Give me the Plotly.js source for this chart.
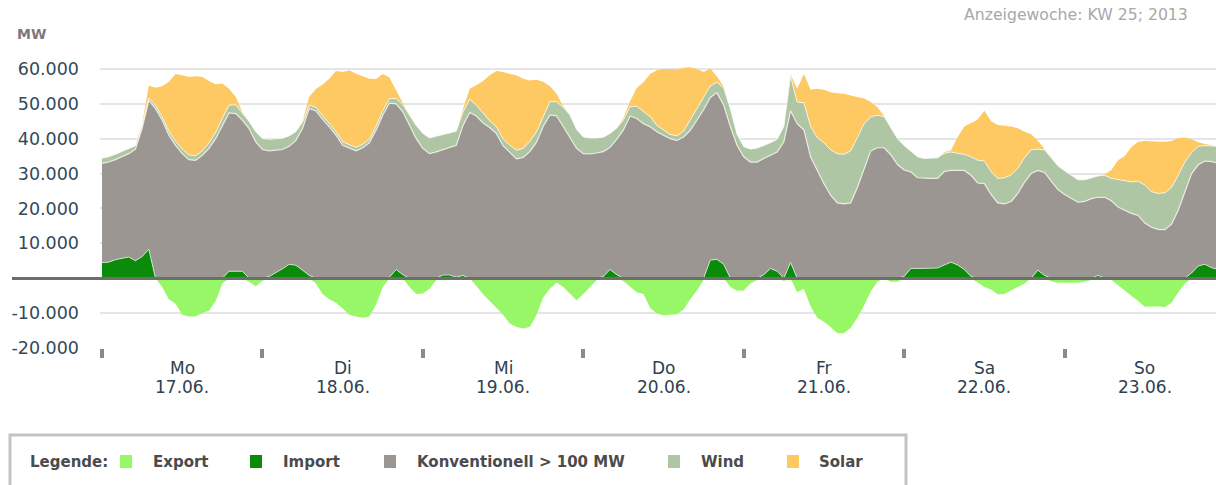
<!DOCTYPE html>
<html>
<head>
<meta charset="utf-8">
<script src="https://cdn.plot.ly/plotly-3.0.1.min.js"></script>
<style>
html,body{margin:0;padding:0;background:#fff;overflow:hidden;}
#chart{width:1216px;height:485px;}
</style>
</head>
<body>
<div id="chart"></div>
<script>
// Hourly values in MW, KW 25 / 2013 (Mo 17.06. 00:00 ... So 23.06. 23:00), one row per day
const importMW = [
  4500,4600,5300,5800,6100,5000,6200,8300,0,0,0,0,0,0,0,0,0,0,0,2000,2000,2000,0,0,
  0,500,1500,2700,4000,3700,2300,800,0,0,0,0,0,0,0,0,0,0,0,300,2500,1000,0,0,
  0,0,0,900,900,300,800,0,0,0,0,0,0,0,0,0,0,0,0,0,0,0,0,0,
  0,0,0,500,2500,1000,0,0,0,0,0,0,0,0,0,0,0,0,0,5200,5400,4000,0,0,
  0,0,0,1000,2800,2000,0,4500,0,0,0,0,0,0,0,0,0,0,0,0,0,0,0,0,
  500,2800,2800,2800,2800,2900,3800,4600,3800,2500,500,0,0,0,0,0,0,0,0,0,2300,800,0,0,
  0,0,0,0,0,800,0,0,0,0,0,0,0,0,0,0,0,0,0,1500,3500,4000,3000,2500
];
const konventionellMW = [
  28400,28700,28700,29000,29600,32000,36700,42700,48600,45300,41000,38100,35700,34000,33800,35200,37200,40000,43800,45400,45200,43300,42900,39100,
  36900,36000,35200,34200,33800,35800,40600,47800,48000,45500,43400,41000,38100,37200,36500,37400,38800,42400,46700,49900,47500,46700,43800,40000,
  37200,35700,36200,36000,36500,37800,43000,47500,46500,44500,43200,41500,38000,36000,34200,34600,36300,39000,43500,46800,46500,43500,40300,37200,
  35700,35600,35900,35800,35000,38800,42500,46500,45800,44300,43400,42000,41000,40000,39500,40500,42400,45300,48300,46600,47800,45600,43400,38100,
  34800,33300,33300,33300,32400,34200,39100,43500,44300,42500,34800,30900,27100,23800,21600,21300,21600,26000,31500,36500,37400,37400,35400,32600,
  30500,27700,26000,25800,25800,25700,26800,26300,27100,28400,29000,27300,27100,24000,21600,21300,22000,24300,27500,30000,28600,29500,27800,25400,
  24000,22800,21800,22000,22800,22400,23200,22200,20400,19500,18600,18000,15800,14600,14000,13900,15500,19500,25000,28500,29000,29600,30400,30500
];
const windMW = [
  1500,1500,1500,1500,1500,1000,900,700,1000,1000,1200,1200,1300,1300,1300,1300,1500,1800,2000,2200,2500,2000,2000,2900,
  3100,3300,3200,3200,3000,2500,1800,1000,1000,1000,1000,1000,1000,1000,1000,1000,1000,1200,1300,1300,1500,2000,2800,3800,
  4300,4500,4500,4300,4200,4000,3800,3800,3100,2900,1900,1900,1900,2100,2500,2600,2900,2900,3000,3800,4100,5500,6500,5400,
  4800,4600,4300,4100,4000,3200,2900,2700,3500,3400,2900,1800,1500,1200,1300,1600,3000,3200,3500,3300,3000,4900,5100,3100,
  2900,3700,4000,3700,3600,3600,4400,10000,6200,7800,8700,9400,11700,13000,14100,14200,14900,14300,12800,9800,9300,8900,7900,7400,
  7000,6000,6000,5700,5800,5900,5200,5300,4900,4600,5300,6500,6500,6500,7000,7500,7600,7200,7000,6800,6100,6500,6700,6800,
  6800,6700,6400,6200,6000,6100,6300,6400,7900,8500,9000,9800,10900,10200,10300,10600,10500,10000,8300,6000,5300,4400,4600,4800
];
const solarMW = [
  0,0,0,0,0,0,300,3500,5000,8700,14100,19200,21200,22400,22800,21200,17800,13800,10000,4700,2300,300,0,0,
  0,0,0,0,0,0,300,2400,5200,9000,12800,17400,20000,21400,21100,19500,17400,13500,10500,6000,2400,300,0,0,
  0,0,0,0,0,0,800,3000,5700,9100,13100,16000,19200,20400,21500,20000,17500,15000,9800,4400,2300,300,0,0,
  0,0,0,0,0,0,500,1500,5200,8500,12200,15800,17500,18600,19000,18200,15100,11500,7300,5000,1600,400,0,0,
  0,0,0,0,0,0,0,400,3800,8200,10500,14000,15200,16500,17300,17400,15900,11700,7200,4200,2300,200,0,0,
  0,0,0,0,0,0,300,500,4700,8000,9700,11700,14400,14500,15300,15000,13900,11500,7500,4500,2400,200,0,0,
  0,0,0,0,0,0,200,2400,5500,7000,10000,11300,12600,14300,14800,14600,13300,10700,7000,3800,1200,500,200,0
];
const exportMW = [
  0,0,0,0,0,0,0,0,0,-2500,-6000,-7300,-10500,-11000,-11000,-10000,-9300,-6500,-1500,0,0,0,-1000,-2300,
  -700,0,0,0,0,0,0,0,-1500,-4500,-6000,-7000,-8700,-10500,-11000,-11300,-11000,-7500,-2500,0,0,0,-2500,-4500,
  -4400,-3000,-500,0,0,0,0,0,-2200,-4600,-6500,-8500,-10500,-13000,-14000,-14400,-14000,-10500,-5500,-3000,-1200,-2500,-4500,-6300,
  -4500,-2500,-500,0,0,0,-800,-2300,-4000,-4500,-8500,-10100,-10600,-10500,-10300,-9000,-6000,-3500,-500,0,0,0,-2500,-3600,
  -3500,-1500,-500,0,0,0,-800,0,-4000,-3000,-8000,-11300,-12500,-14000,-15800,-15800,-14200,-11300,-7800,-3800,-1000,0,-1000,-1000,
  0,0,0,0,0,0,0,0,0,0,0,-1200,-2500,-3200,-4600,-4500,-3500,-2500,-1500,0,0,0,-900,-1300,
  -1300,-1300,-1300,-1000,-500,0,-300,-500,-2000,-3500,-4800,-6500,-8200,-8100,-8000,-8300,-7000,-4000,-1500,0,0,0,0,0
];
const dayNames = ["Mo","Di","Mi","Do","Fr","Sa","So"];
const dayDates = ["17.06.","18.06.","19.06.","20.06.","21.06.","22.06.","23.06."];
const yTickVals = [-20000,-10000,0,10000,20000,30000,40000,50000,60000,70000];
const yTickText = ["-20.000","-10.000","","10.000","20.000","30.000","40.000","50.000","60.000",""];
const legendNames = ["Export","Import","Konventionell > 100 MW","Wind","Solar"];
const seriesColors = {Export:"#97f766", Import:"#0a8c0a", Konv:"#9c9692", Wind:"#afc6a5", Solar:"#fec863"};

const hours = importMW.map((_, i) => i);

const traces = [
  {x:hours, y:exportMW, type:"scatter", mode:"lines", fill:"tozeroy", fillcolor:seriesColors.Export,
   line:{width:0, color:seriesColors.Export}, hoverinfo:"skip", showlegend:false},
  {x:hours, y:importMW, type:"scatter", mode:"lines", stackgroup:"pos", fillcolor:seriesColors.Import,
   line:{color:"rgba(255,255,255,0.6)", width:1}, hoverinfo:"skip", showlegend:false},
  {x:hours, y:konventionellMW, type:"scatter", mode:"lines", stackgroup:"pos", fillcolor:seriesColors.Konv,
   line:{color:"rgba(240,240,232,0.9)", width:1.2}, hoverinfo:"skip", showlegend:false},
  {x:hours, y:windMW, type:"scatter", mode:"lines", stackgroup:"pos", fillcolor:seriesColors.Wind,
   line:{color:"rgba(255,255,255,0.7)", width:1}, hoverinfo:"skip", showlegend:false},
  {x:hours, y:solarMW, type:"scatter", mode:"lines", stackgroup:"pos", fillcolor:seriesColors.Solar,
   line:{width:0, color:seriesColors.Solar}, hoverinfo:"skip", showlegend:false}
];

// pixel helpers for decorations
const L = 100, PW = 1116, TOP = 34, PH = 314;
const px = v => (v - L) / PW;
const py = v => (TOP + PH - v) / PH;
const FONT = "DejaVu Sans, Verdana, sans-serif";

const annotations = [];
const shapes = [];

annotations.push({xref:"paper", yref:"paper", x:px(15), y:py(34), xanchor:"left", yanchor:"middle",
  text:"<b>MW</b>", showarrow:false, font:{family:FONT, size:14, color:"#7a7a7a"}});
annotations.push({xref:"paper", yref:"paper", x:px(1190), y:py(15), xanchor:"right", yanchor:"middle",
  text:"Anzeigewoche: KW 25; 2013", showarrow:false, font:{family:FONT, size:15.7, color:"#a8a8a8"}});

dayNames.forEach((d, i) => {
  annotations.push({xref:"x", yref:"paper", x:i*24+12, y:py(368), xanchor:"center", yanchor:"middle",
    text:d, showarrow:false, font:{family:FONT, size:17, color:"#2f4150"}});
  annotations.push({xref:"x", yref:"paper", x:i*24+12, y:py(387), xanchor:"center", yanchor:"middle",
    text:dayDates[i], showarrow:false, font:{family:FONT, size:17, color:"#2f4150"}});
});

// zero line extending under the labels
shapes.push({type:"line", xref:"paper", yref:"paper", x0:px(12), x1:1.02, y0:py(278.5), y1:py(278.5),
  line:{color:"#6d6d6d", width:3}, layer:"above"});

// legend box
shapes.push({type:"rect", xref:"paper", yref:"paper", x0:px(10), x1:px(906), y0:py(435), y1:py(530),
  line:{color:"#c3c3c3", width:3}, fillcolor:"rgba(0,0,0,0)"});
annotations.push({xref:"paper", yref:"paper", x:px(28), y:py(462), xanchor:"left", yanchor:"middle",
  text:"<b>Legende:</b>", showarrow:false, font:{family:FONT, size:15, color:"#4b4b4b"}});
const legColors = [seriesColors.Export, seriesColors.Import, seriesColors.Konv, seriesColors.Wind, seriesColors.Solar];
const legSquareX = [120, 250, 384, 668, 787];
const legTextX = [151, 281, 415, 699, 817];
legendNames.forEach((n, i) => {
  shapes.push({type:"rect", xref:"paper", yref:"paper", x0:px(legSquareX[i]), x1:px(legSquareX[i]+12),
    y0:py(468), y1:py(455), line:{width:0}, fillcolor:legColors[i]});
  annotations.push({xref:"paper", yref:"paper", x:px(legTextX[i]), y:py(462), xanchor:"left", yanchor:"middle",
    text:"<b>"+n.replace(">","&gt;")+"</b>", showarrow:false, font:{family:FONT, size:15, color:"#4b4b4b"}});
});

const layout = {
  width:1216, height:485,
  margin:{l:L, r:0, t:TOP, b:485-TOP-PH, pad:0},
  paper_bgcolor:"#ffffff", plot_bgcolor:"#ffffff",
  showlegend:false,
  xaxis:{range:[-0.3, 166.65], tickvals:[0,24,48,72,96,120,144], ticks:"outside", ticklen:9, tickwidth:4,
    tickcolor:"#8a8a8a", showticklabels:false, showgrid:false, zeroline:false, showline:false, fixedrange:true},
  yaxis:{range:[-20000,70000], tickvals:yTickVals, ticktext:yTickText, showgrid:true, gridcolor:"#e5e5e5",
    gridwidth:2, zeroline:false, showline:false, ticks:"", ticklabelstandoff:20,
    tickfont:{family:FONT, size:17.5, color:"#34495a"}, fixedrange:true},
  annotations:annotations,
  shapes:shapes
};

Plotly.newPlot("chart", traces, layout, {displayModeBar:false, staticPlot:true});
</script>
</body>
</html>
